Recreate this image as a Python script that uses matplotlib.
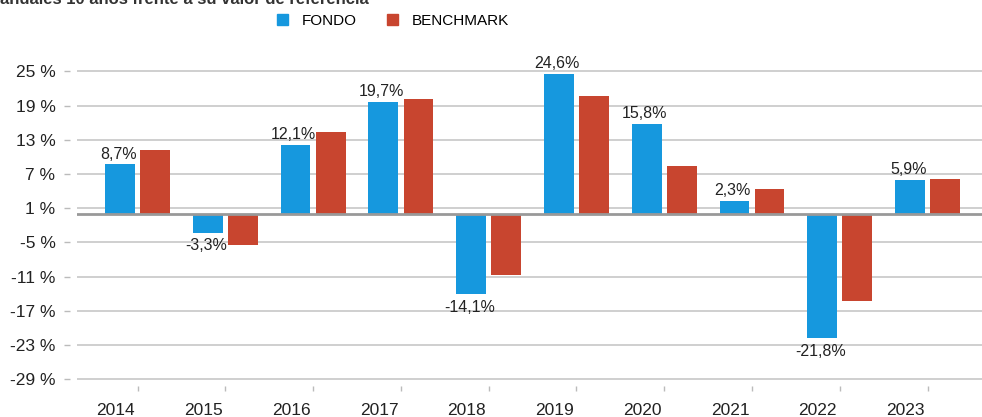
import matplotlib
matplotlib.use("Agg")
import matplotlib.pyplot as plt
from matplotlib.patches import Patch
import numpy as np

plt.rcParams['font.family'] = ['Liberation Sans', 'DejaVu Sans']

years = ["2014", "2015", "2016", "2017", "2018", "2019", "2020", "2021", "2022", "2023"]
fondo = [8.7, -3.3, 12.1, 19.7, -14.1, 24.6, 15.8, 2.3, -21.8, 5.9]
benchmark = [11.2, -5.5, 14.3, 20.1, -10.8, 20.6, 8.4, 4.3, -15.3, 6.1]
yticks = [25, 19, 13, 7, 1, -5, -11, -17, -23, -29]

blue = "#1698de"
red = "#c8452f"

def main():
    W, H = 982, 417
    fig = plt.figure(figsize=(W / 100, H / 100), dpi=100)
    # axes box in pixels: left 77, right 982, top 60, bottom 386
    ax = fig.add_axes([77 / W, (H - 386) / H, (982 - 77) / W, (386 - 60) / H])

    x = np.arange(len(years))
    ax.bar(x - 0.2, fondo, width=0.34, color=blue, zorder=3)
    ax.bar(x + 0.2, benchmark, width=0.34, color=red, zorder=3)

    for xi, v in zip(x, fondo):
        txt = f"{v:.1f}%".replace(".", ",")
        if v >= 0:
            ax.annotate(txt, (xi - 0.22, v), xytext=(0, 2), textcoords="offset points",
                        ha="center", va="bottom", fontsize=11.5, color="#222222")
        else:
            ax.annotate(txt, (xi - 0.22, v), xytext=(0, -4), textcoords="offset points",
                        ha="center", va="top", fontsize=11.5, color="#222222")

    ax.set_xlim(-0.69, 9.62)
    ax.set_ylim(-30.2, 27.0)

    ax.set_yticks(yticks)
    ax.set_yticklabels([f"{t} %" for t in yticks])
    ax.yaxis.grid(True, color="#cccccc", linewidth=1.3, zorder=0)
    for t, gl in zip(ax.get_yticks(), ax.yaxis.get_gridlines()):
        if t == -29:
            gl.set_visible(False)
    ax.axhline(0, color="#999999", linewidth=2, zorder=4)

    ax.set_xticks(x - 0.25)
    ax.set_xticklabels(years)
    ax.set_xticks(x, minor=True)
    ax.tick_params(axis="x", which="major", length=0, pad=12, labelsize=12.5, labelcolor="#222222")
    ax.tick_params(axis="x", which="minor", length=3.5, width=1, color="#bbbbbb")
    ax.tick_params(axis="y", length=4, width=1, color="#bbbbbb", pad=6.5,
                   labelsize=12.5, labelcolor="#222222")

    for s in ax.spines.values():
        s.set_visible(False)
    ax.spines["left"].set_position(("outward", 5))

    handles = [Patch(color=blue, label="FONDO"), Patch(color=red, label="BENCHMARK")]
    fig.legend(handles=handles, loc="center", bbox_to_anchor=(393 / W, 1 - 21 / H), ncol=2,
               frameon=False, fontsize=11, handlelength=0.7, handleheight=0.7,
               handletextpad=0.9, columnspacing=2.0)

    fig.text(0, 1 - 4 / H, "anuales 10 años frente a su valor de referencia",
             fontsize=12, fontweight="bold", color="#333333", va="baseline", ha="left")

    fig.savefig("out.png", dpi=100)

if __name__ == "__main__":
    main()
